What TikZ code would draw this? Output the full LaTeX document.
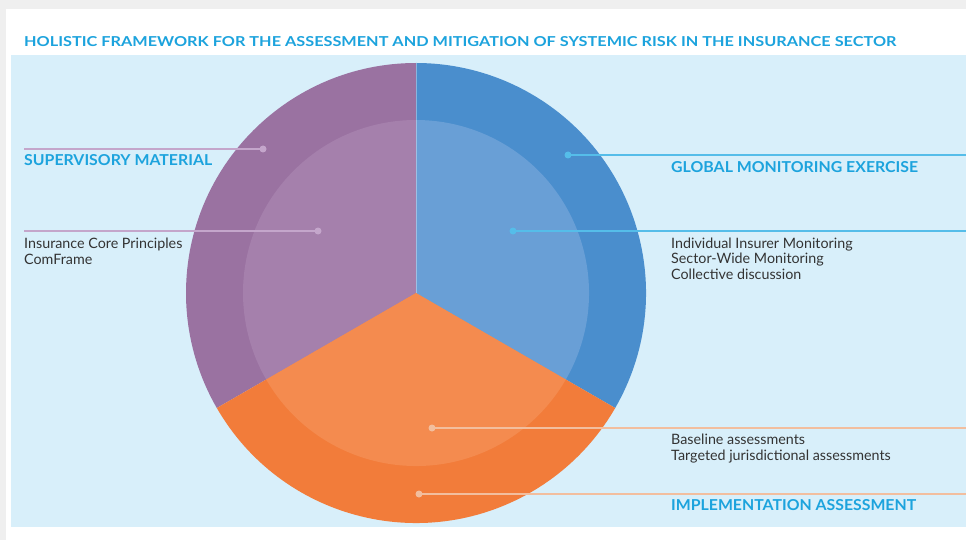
\documentclass[tikz,border=0pt]{standalone}
\usepackage{fontspec}
\setmainfont{Lato}
\usepackage{graphicx}
\definecolor{pagegray}{HTML}{EFEFEF}
\definecolor{panelblue}{HTML}{D8EFFA}
\definecolor{headcyan}{HTML}{1CA3DD}
\definecolor{bodytext}{HTML}{333333}
\definecolor{purpleout}{HTML}{9A72A1}
\definecolor{purplein}{HTML}{A580AC}
\definecolor{blueout}{HTML}{4A8ECD}
\definecolor{bluein}{HTML}{699FD6}
\definecolor{orangeout}{HTML}{F27C3A}
\definecolor{orangein}{HTML}{F48B4F}
\definecolor{purpleline}{HTML}{C4A6CB}
\definecolor{blueline}{HTML}{55BDE9}
\definecolor{orangeline}{HTML}{F2BE9E}
\tikzset{
  heading/.style={anchor=base west, inner sep=0pt, text=headcyan, font=\bfseries},
  bodytxt/.style={anchor=base west, inner sep=0pt, text=bodytext, font=\fontsize{14.3}{15.5}\selectfont, align=left},
  leaderdot/.style={circle, inner sep=0pt, minimum size=7pt},
  leader/.style={line width=1.1pt},
}
\begin{document}
\begin{tikzpicture}[x=1pt,y=-1pt]
\useasboundingbox (0,0) rectangle (966,540);
\fill[pagegray] (0,0) rectangle (966,540);
\fill[white] (6,9) rectangle (966,540);
\fill[panelblue] (11,55) rectangle (966,527);
% title
\node[heading] (title) at (24,47) {\resizebox{872pt}{10pt}{HOLISTIC FRAMEWORK FOR THE ASSESSMENT AND MITIGATION OF SYSTEMIC RISK IN THE INSURANCE SECTOR}};
% pie
\begin{scope}[shift={(416,293)}, yscale=-1]
  \fill[purpleout] (0,0) -- (90:230) arc[start angle=90, end angle=210, radius=230] -- cycle;
  \fill[blueout] (0,0) -- (-30:230) arc[start angle=-30, end angle=90, radius=230] -- cycle;
  \fill[orangeout] (0,0) -- (210:230) arc[start angle=210, end angle=330, radius=230] -- cycle;
  \fill[purplein] (0,0) -- (90:173) arc[start angle=90, end angle=210, radius=173] -- cycle;
  \fill[bluein] (0,0) -- (-30:173) arc[start angle=-30, end angle=90, radius=173] -- cycle;
  \fill[orangein] (0,0) -- (210:173) arc[start angle=210, end angle=330, radius=173] -- cycle;
  \draw[white, opacity=0.35, line width=0.6pt] (0,0) -- (90:230);
\end{scope}
% dots
\node[leaderdot, fill=purpleline] (d1) at (263,149) {};
\node[leaderdot, fill=purpleline] (d2) at (318,231) {};
\node[leaderdot, fill=blueline] (d3) at (568,155) {};
\node[leaderdot, fill=blueline] (d4) at (513,231) {};
\node[leaderdot, fill=orangeline] (d5) at (432,428) {};
\node[leaderdot, fill=orangeline] (d6) at (419,494) {};
\coordinate (e1) at (24,149);
\coordinate (e2) at (24,231);
\coordinate (e3) at (966,155);
\coordinate (e4) at (966,231);
\coordinate (e5) at (966,428);
\coordinate (e6) at (966,494);
\draw[leader, purpleline] (d1.center) -- (e1);
\draw[leader, purpleline] (d2.center) -- (e2);
\draw[leader, blueline] (d3.center) -- (e3);
\draw[leader, blueline] (d4.center) -- (e4);
\draw[leader, orangeline] (d5.center) -- (e5);
\draw[leader, orangeline] (d6.center) -- (e6);
% headings
\node[heading] (h1) at (24,166) {\resizebox{188pt}{11pt}{SUPERVISORY MATERIAL}};
\node[heading] (h2) at (671,172) {\resizebox{247pt}{11pt}{GLOBAL MONITORING EXERCISE}};
\node[heading] (h3) at (671,510) {\resizebox{245pt}{11pt}{IMPLEMENTATION ASSESSMENT}};
% body (anchor is the baseline of the last line)
\node[bodytxt] (t1) at (24,264) {Insurance Core Principles\\ComFrame};
\node[bodytxt] (t2) at (671,279) {Individual Insurer Monitoring\\Sector-Wide Monitoring\\Collective discussion};
\node[bodytxt] (t3) at (671,460) {Baseline assessments\\Targeted jurisdictional assessments};
\end{tikzpicture}
\end{document}
